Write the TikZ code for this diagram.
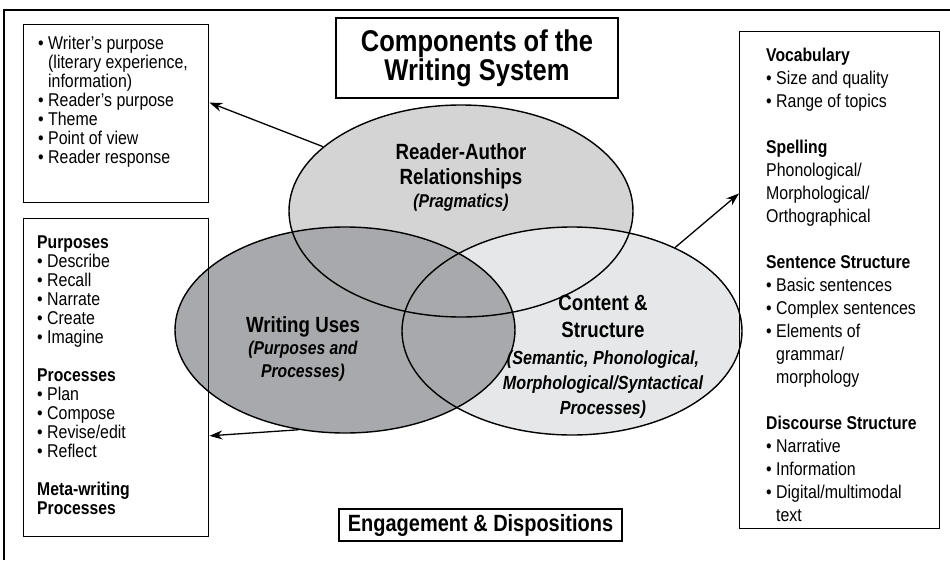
\documentclass[tikz,border=0pt]{standalone}
\usepackage{fontspec}
\setmainfont{Liberation Sans}[UprightFeatures={FakeStretch=0.86},BoldFeatures={FakeStretch=0.85},ItalicFeatures={FakeStretch=0.86},BoldItalicFeatures={FakeStretch=0.85}]
\usetikzlibrary{shapes.geometric,arrows.meta,calc}
\definecolor{topc}{RGB}{212,212,213}
\definecolor{leftc}{RGB}{168,169,172}
\definecolor{rightc}{RGB}{230,231,232}
\newcommand\bl{\textbullet\ }
\newcommand\ind{\phantom{\textbullet\ }}
\begin{document}
\begin{tikzpicture}[x=1pt,y=-1pt,
  box/.style={draw,line width=1.4pt,inner sep=0pt,anchor=north west},
  oval/.style={ellipse,draw,line width=1.4pt,inner sep=0pt},
  list/.style={anchor=north west,inner sep=0pt,align=left},
  lbl/.style={inner sep=0pt,align=center,font=\fontsize{22}{26}\selectfont\bfseries},
  sub/.style={inner sep=0pt,align=center,font=\fontsize{18.5}{23}\selectfont\bfseries\itshape},
  arr/.style={line width=1.3pt,-{Stealth[length=13pt,width=9pt]}}]
\useasboundingbox (0,0) rectangle (950,560);
\fill[white] (0,0) rectangle (950,560);
\draw[line width=1.5pt] (4,560) -- (4,10) -- (950,10);
% ellipse fills
\fill[topc] (461,211) ellipse [x radius=172, y radius=106];
\fill[rightc] (572,331) ellipse [x radius=170, y radius=104];
\fill[leftc] (345,330) ellipse [x radius=170, y radius=103];
% ellipse outlines
\node[oval,minimum width=344pt,minimum height=212pt] (top) at (461,211) {};
\node[oval,minimum width=340pt,minimum height=208pt] (right) at (572,331) {};
\node[oval,minimum width=340pt,minimum height=206pt] (left) at (345,330) {};
% boxes
\node[box,minimum width=185pt,minimum height=178pt] (lt) at (23,24) {};
\node[box,minimum width=185pt,minimum height=318pt] (lb) at (23,218) {};
\node[box,minimum width=200pt,minimum height=497pt] (rb) at (739,31) {};
\node[draw,line width=1.2pt,minimum width=282pt,minimum height=80pt,inner sep=0pt,align=center,font=\fontsize{30}{29}\selectfont\bfseries] (title) at (477,58) {Components of the\\Writing System};
\node[draw,line width=1.8pt,minimum width=283pt,minimum height=32pt,inner sep=0pt,font=\fontsize{23.5}{26}\selectfont\bfseries] (eng) at (480.5,525) {Engagement \& Dispositions};
% box texts
\node[list,font=\fontsize{18.5}{19}\selectfont] (lttext) at (38,36) {\bl Writer’s purpose\\ \ind(literary experience,\\ \ind information)\\ \bl Reader’s purpose\\ \bl Theme\\ \bl Point of view\\ \bl Reader response};
\node[list,font=\fontsize{18.5}{19}\selectfont] (lbtext) at (37,236) {\textbf{Purposes}\\ \bl Describe\\ \bl Recall\\ \bl Narrate\\ \bl Create\\ \bl Imagine\\[19pt] \textbf{Processes}\\ \bl Plan\\ \bl Compose\\ \bl Revise/edit\\ \bl Reflect\\[19pt] \textbf{Meta-writing}\\ \textbf{Processes}};
\node[list,font=\fontsize{18.5}{23}\selectfont] (rbtext) at (766,48) {\textbf{Vocabulary}\\ \bl Size and quality\\ \bl Range of topics\\[23pt] \textbf{Spelling}\\ Phonological/\\ Morphological/\\ Orthographical\\[23pt] \textbf{Sentence Structure}\\ \bl Basic sentences\\ \bl Complex sentences\\ \bl Elements of\\ \ind grammar/\\ \ind morphology\\[23pt] \textbf{Discourse Structure}\\ \bl Narrative\\ \bl Information\\ \bl Digital/multimodal\\ \ind text};
% ellipse labels
\node[lbl,font=\fontsize{22}{25}\selectfont\bfseries] (toplbl) at (461,166) {Reader-Author\\Relationships};
\node[sub] (topsub) at (461,203) {(Pragmatics)};
\node[lbl] (leftlbl) at (303,327) {Writing Uses};
\node[sub] (leftsub) at (303,361) {(Purposes and\\Processes)};
\node[lbl,font=\fontsize{22}{27}\selectfont\bfseries] (rightlbl) at (603,316) {Content \&\\Structure};
\node[sub,font=\fontsize{19}{25}\selectfont\bfseries\itshape] (rightsub) at (603,385) {(Semantic, Phonological,\\Morphological/Syntactical\\Processes)};
% connectors
\coordinate (ltin) at ($(lt.north east)!0.438!(lt.south east)$);
\coordinate (lbin) at ($(lb.north east)!0.682!(lb.south east)$);
\coordinate (rbin) at ($(rb.north west)!0.326!(rb.south west)$);
\draw[arr] (top.155) -- (ltin);
\draw[arr] (left.245) -- (lbin);
\draw[arr] (right.39) -- (rbin);
\end{tikzpicture}
\end{document}
